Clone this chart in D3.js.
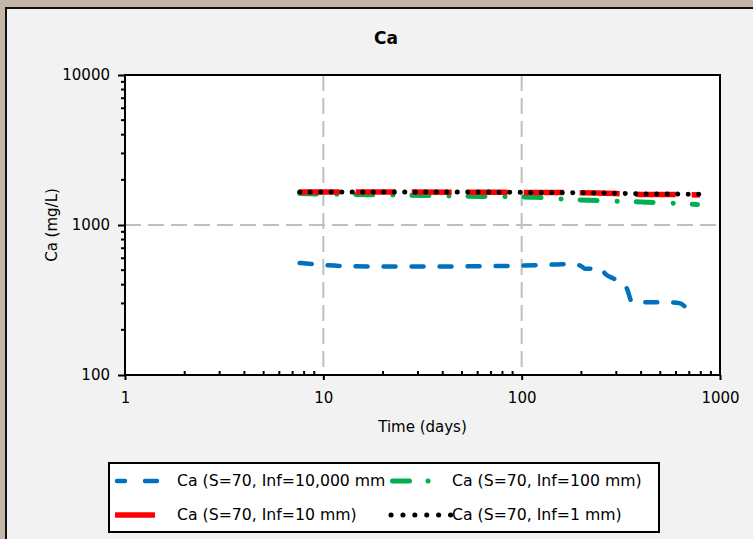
<!DOCTYPE html>
<html>
<head>
<meta charset="utf-8">
<script src="https://cdn.jsdelivr.net/npm/d3@7"></script>
<style>
  body { margin: 0; background: #c4b6a8; }
  svg text { font-family: "DejaVu Sans", Verdana, sans-serif; fill: #000; }
</style>
</head>
<body>
<div id="chart"></div>
<script>
const width = 753, height = 539;

// data: [time (days), Ca (mg/L)]
const blueData = [[7.6, 558], [10, 541], [13, 532], [20, 529], [40, 529], [70, 532], [100, 536],
  [150, 546], [185, 550], [200, 530], [210, 510], [250, 515], [265, 470], [290, 440], [312, 420],
  [340, 375], [360, 307], [420, 305], [500, 305], [580, 304], [630, 300], [667, 285]];
const greenData = [[7.6, 1620], [17, 1590], [31, 1573], [62, 1550], [84, 1545], [117, 1530],
  [160, 1490], [220, 1460], [310, 1440], [428, 1420], [590, 1395], [770, 1370]];
const redData = [[7.6, 1660], [20, 1660], [50, 1655], [100, 1650], [200, 1640], [300, 1620],
  [400, 1600], [600, 1595], [790, 1585]];
const blackData = [[7.6, 1660], [50, 1660], [100, 1650], [200, 1640], [300, 1630], [400, 1612],
  [790, 1605]];

const seriesNames = ["Ca (S=70, Inf=10,000 mm", "Ca (S=70, Inf=100 mm)",
  "Ca (S=70, Inf=10 mm)", "Ca (S=70, Inf=1 mm)"];
const xTicks = [1, 10, 100, 1000];
const yTicks = [100, 1000, 10000];

const plot = {left: 125, right: 720, top: 75, bottom: 375};

const svg = d3.select("#chart").append("svg")
  .attr("width", width)
  .attr("height", height);

// outer frame + chart panel
svg.append("rect").attr("width", width).attr("height", height).attr("fill", "#c4b6a8");
svg.append("rect")
  .attr("x", 6).attr("y", 8).attr("width", width + 10).attr("height", height + 10)
  .attr("fill", "#f2f2f2").attr("stroke", "#111").attr("stroke-width", 2);

const x = d3.scaleLog().domain([1, 1000]).range([plot.left, plot.right]);
const y = d3.scaleLog().domain([100, 10000]).range([plot.bottom, plot.top]);

svg.append("rect")
  .attr("x", plot.left).attr("y", plot.top)
  .attr("width", plot.right - plot.left).attr("height", plot.bottom - plot.top)
  .attr("fill", "#fff");

// gridlines
svg.append("g").selectAll("line").data([10, 100]).join("line")
  .attr("x1", d => x(d)).attr("x2", d => x(d))
  .attr("y1", plot.top).attr("y2", plot.bottom)
  .attr("stroke", "#bfbfbf").attr("stroke-width", 2).attr("stroke-dasharray", "16,7");
svg.append("g").selectAll("line").data([1000]).join("line")
  .attr("x1", plot.left).attr("x2", plot.right)
  .attr("y1", d => y(d)).attr("y2", d => y(d))
  .attr("stroke", "#bfbfbf").attr("stroke-width", 2).attr("stroke-dasharray", "16,7");

// series
const line = d3.line()
  .x(d => x(d[0]))
  .y(d => y(d[1]))
  .curve(d3.curveMonotoneX);

const series = [
  {data: blueData, color: "#0070c0", w: 4.5, dash: "12,16", cap: "round"},
  {data: greenData, color: "#00b050", w: 5, dash: "17,20,0.1,19", cap: "round"},
  {data: redData, color: "#ff0000", w: 5.5, dash: "40,16", cap: "butt"},
  {data: blackData, color: "#000000", w: 5, dash: "0.1,10.4", cap: "round"}
];

svg.append("g").selectAll("path").data(series).join("path")
  .attr("d", d => line(d.data))
  .attr("fill", "none")
  .attr("stroke", d => d.color)
  .attr("stroke-width", d => d.w)
  .attr("stroke-dasharray", d => d.dash)
  .attr("stroke-linecap", d => d.cap);

// axes
const xAxis = d3.axisBottom(x).tickValues(xTicks).tickFormat(d3.format("d"))
  .tickSize(5).tickPadding(12);
const gx = svg.append("g")
  .attr("transform", "translate(0," + plot.bottom + ")")
  .call(xAxis);
gx.select(".domain").remove();
gx.selectAll(".tick line").attr("stroke", "#000").attr("stroke-width", 2);
gx.selectAll(".tick text").style("font-size", "15px");

const xMinor = [];
for (let dec = 1; dec < 1000; dec *= 10) for (let k = 2; k <= 9; k++) xMinor.push(dec * k);
svg.append("g").selectAll("line").data(xMinor).join("line")
  .attr("x1", d => x(d)).attr("x2", d => x(d))
  .attr("y1", plot.bottom).attr("y2", plot.bottom - 4)
  .attr("stroke", "#000").attr("stroke-width", 2);

const yAxis = d3.axisLeft(y).tickValues(yTicks).tickFormat(d3.format("d"))
  .tickSize(7).tickPadding(8);
const gy = svg.append("g")
  .attr("transform", "translate(" + plot.left + ",0)")
  .call(yAxis);
gy.select(".domain").remove();
gy.selectAll(".tick line").attr("stroke", "#000").attr("stroke-width", 2);
gy.selectAll(".tick text").style("font-size", "15px");

const yMinor = [];
for (let dec = 100; dec < 10000; dec *= 10) for (let k = 2; k <= 9; k++) yMinor.push(dec * k);
svg.append("g").selectAll("line").data(yMinor).join("line")
  .attr("x1", plot.left - 4).attr("x2", plot.left)
  .attr("y1", d => y(d)).attr("y2", d => y(d))
  .attr("stroke", "#000").attr("stroke-width", 2);

// plot border
svg.append("rect")
  .attr("x", plot.left).attr("y", plot.top)
  .attr("width", plot.right - plot.left).attr("height", plot.bottom - plot.top)
  .attr("fill", "none").attr("stroke", "#000").attr("stroke-width", 2);

// titles
svg.append("text")
  .attr("x", 386).attr("y", 44)
  .attr("text-anchor", "middle")
  .style("font-size", "17px").style("font-weight", "bold")
  .text("Ca");

svg.append("text")
  .attr("x", (plot.left + plot.right) / 2).attr("y", 432)
  .attr("text-anchor", "middle")
  .style("font-size", "15px")
  .text("Time (days)");

svg.append("text")
  .attr("transform", "translate(57," + (plot.top + plot.bottom) / 2 + ") rotate(-90)")
  .attr("text-anchor", "middle")
  .style("font-size", "15px")
  .text("Ca (mg/L)");

// legend
const legend = svg.append("g");
legend.append("rect")
  .attr("x", 109).attr("y", 463).attr("width", 550).attr("height", 69)
  .attr("fill", "#fff").attr("stroke", "#000").attr("stroke-width", 2);

const legendPos = [
  {x1: 117, x2: 159, tx: 177, cy: 481, dash: "8,20,12"},
  {x1: 392.5, x2: 432, tx: 452, cy: 481, dash: "17,18.5,0.1,100"},
  {x1: 115, x2: 155, tx: 177, cy: 515, dash: null},
  {x1: 391, x2: 452, tx: 452, cy: 515, dash: "0.1,11.8"}
];

const items = legend.selectAll("g.item").data(series).join("g").attr("class", "item");
items.append("line")
  .attr("x1", (d, i) => legendPos[i].x1)
  .attr("x2", (d, i) => legendPos[i].x2)
  .attr("y1", (d, i) => legendPos[i].cy).attr("y2", (d, i) => legendPos[i].cy)
  .attr("stroke", d => d.color)
  .attr("stroke-width", d => d.w)
  .attr("stroke-dasharray", (d, i) => legendPos[i].dash)
  .attr("stroke-linecap", d => d.cap);
items.append("text")
  .attr("x", (d, i) => legendPos[i].tx)
  .attr("y", (d, i) => legendPos[i].cy + 5)
  .style("font-size", "15.7px")
  .text((d, i) => seriesNames[i]);
</script>
</body>
</html>
